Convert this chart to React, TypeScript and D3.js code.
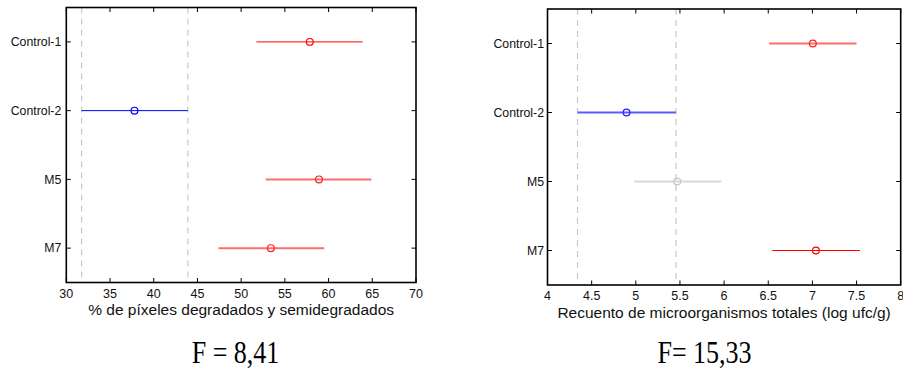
import React from "react";
import * as d3 from "d3";

const categories = ["Control-1", "Control-2", "M5", "M7"];

// Left panel: % de píxeles degradados y semidegradados
const leftMeans = [57.85, 37.8, 58.9, 53.4];
const leftLow = [51.75, 31.75, 52.8, 47.4];
const leftHigh = [63.9, 43.9, 64.9, 59.5];
const leftColors = ["#ff0000", "#0000ff", "#ff6e6e", "#ff6e6e"];
const leftMarkerColors = ["#ff0000", "#0000ff", "#ff2020", "#ff2020"];
const leftWidths = [1, 1, 2, 2];
const leftTicks = [30, 35, 40, 45, 50, 55, 60, 65, 70];
const leftRefLines = [31.75, 43.9];
const leftLabel = "% de píxeles degradados y semidegradados";
const leftF = "F = 8,41";

// Right panel: Recuento de microorganismos totales (log ufc/g)
const rightMeans = [7.005, 4.895, 5.47, 7.04];
const rightLow = [6.51, 4.34, 4.98, 6.545];
const rightHigh = [7.5, 5.455, 5.97, 7.54];
const rightColors = ["#ff6e6e", "#5c5cff", "#d8d8d8", "#ff0000"];
const rightMarkerColors = ["#ff2020", "#2020ff", "#c8c8c8", "#ff0000"];
const rightWidths = [2, 2, 2, 1];
const rightTicks = [4, 4.5, 5, 5.5, 6, 6.5, 7, 7.5, 8];
const rightRefLines = [4.34, 5.455];
const rightLabel = "Recuento de microorganismos totales (log ufc/g)";
const rightF = "F= 15,33";

type PanelProps = {
  x0: number; x1: number; y0: number; y1: number;
  domain: [number, number];
  means: number[]; low: number[]; high: number[];
  colors: string[]; markerColors: string[]; widths: number[];
  ticks: number[]; refLines: number[];
  label: string; fText: string; fX: number; labelY: number;
  labelOffset: number;
};

function Panel(p: PanelProps) {
  const x = d3.scaleLinear().domain(p.domain).range([p.x0, p.x1]);
  const y = d3.scaleLinear().domain([0.5, categories.length + 0.5]).range([p.y0, p.y1]);
  const tickLen = 4.5;
  return (
    <g>
      {p.refLines.map((v, i) => (
        <line key={"r" + i} x1={x(v)} x2={x(v)} y1={p.y0} y2={p.y1}
          stroke="#c8c8c8" strokeWidth={1.2} strokeDasharray="6,5" />
      ))}
      {categories.map((c, i) => (
        <g key={c}>
          <line x1={x(p.low[i])} x2={x(p.high[i])} y1={y(i + 1)} y2={y(i + 1)}
            stroke={p.colors[i]} strokeWidth={p.widths[i]} />
          <circle cx={x(p.means[i])} cy={y(i + 1)} r={3.4} fill="none"
            stroke={p.markerColors[i]} strokeWidth={1.2} />
        </g>
      ))}
      {p.ticks.map((t, i) => (
        <g key={"t" + i}>
          <line x1={x(t)} x2={x(t)} y1={p.y1} y2={p.y1 - tickLen} stroke="#000" strokeWidth={1} />
          <line x1={x(t)} x2={x(t)} y1={p.y0} y2={p.y0 + tickLen} stroke="#000" strokeWidth={1} />
          <text x={x(t)} y={p.y1 + 15} textAnchor="middle" fontSize={12.5}
            fontFamily="Liberation Sans, Arial, sans-serif" fill="#111">{t}</text>
        </g>
      ))}
      {categories.map((c, i) => (
        <g key={"y" + c}>
          <line x1={p.x0} x2={p.x0 + tickLen} y1={y(i + 1)} y2={y(i + 1)} stroke="#000" />
          <line x1={p.x1} x2={p.x1 - tickLen} y1={y(i + 1)} y2={y(i + 1)} stroke="#000" />
          <text x={p.x0 - p.labelOffset} y={y(i + 1) + 4.3} textAnchor="end" fontSize={12.3}
            fontFamily="Liberation Sans, Arial, sans-serif" fill="#111">{c}</text>
        </g>
      ))}
      <rect x={p.x0} y={p.y0} width={p.x1 - p.x0} height={p.y1 - p.y0}
        fill="none" stroke="#000" strokeWidth={1.6} />
      <text x={(p.x0 + p.x1) / 2} y={p.labelY} textAnchor="middle" fontSize={15.5}
        fontFamily="Liberation Sans, Arial, sans-serif" fill="#111">{p.label}</text>
      <text x={p.fX} y={0} textAnchor="middle" fontSize={26}
        fontFamily="Liberation Serif, Times New Roman, serif" fill="#000"
        transform={`translate(0,362.5) scale(1,1.25)`}>{p.fText}</text>
    </g>
  );
}

export default function App() {
  return (
    <svg width={903} height={369} style={{ position: "absolute", left: 0, top: 0, background: "#fff" }}>
      <rect x={0} y={0} width={903} height={369} fill="#fff" />
      <Panel x0={66.3} x1={416} y0={7.5} y1={282.5} domain={[30, 70]}
        means={leftMeans} low={leftLow} high={leftHigh} colors={leftColors}
        markerColors={leftMarkerColors} widths={leftWidths}
        ticks={leftTicks} refLines={leftRefLines} label={leftLabel} fText={leftF} fX={235.5}
        labelY={314.5} labelOffset={5} />
      <Panel x0={547.5} x1={900.7} y0={9} y1={285} domain={[4, 8]}
        means={rightMeans} low={rightLow} high={rightHigh} colors={rightColors}
        markerColors={rightMarkerColors} widths={rightWidths}
        ticks={rightTicks} refLines={rightRefLines} label={rightLabel} fText={rightF} fX={704.5}
        labelY={317.5} labelOffset={3.5} />
    </svg>
  );
}
